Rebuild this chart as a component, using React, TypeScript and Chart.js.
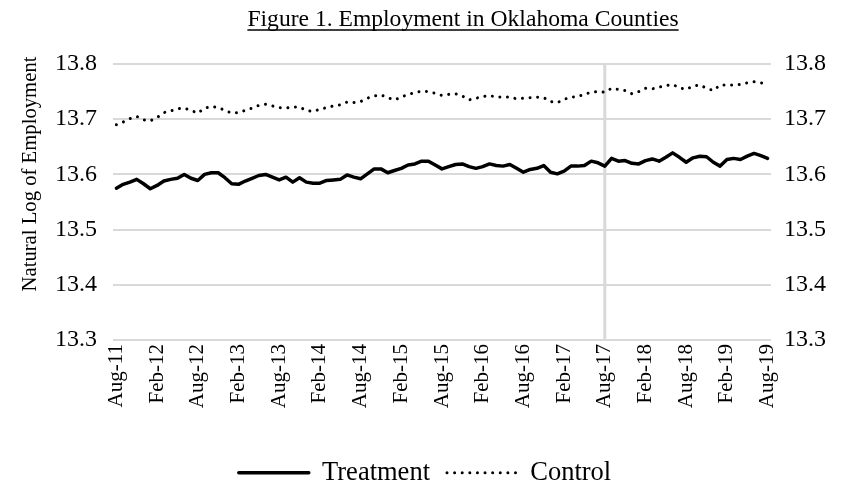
import { useEffect, useRef } from "react";
import { Chart, registerables } from "chart.js";

Chart.register(...registerables);

const MONTH_NAMES = ["Jan", "Feb", "Mar", "Apr", "May", "Jun", "Jul", "Aug", "Sep", "Oct", "Nov", "Dec"];
const START_MONTH = 7; // Aug
const START_YEAR = 2011;
const MONTH_COUNT = 97; // Aug-11 .. Aug-19

const categories: string[] = [];
for (let k = 0; k < MONTH_COUNT; k++) {
  const m = (START_MONTH + k) % 12;
  const y = START_YEAR + Math.floor((START_MONTH + k) / 12);
  categories.push(`${MONTH_NAMES[m]}-${String(y % 100).padStart(2, "0")}`);
}

const tickLabels = [
  "Aug-11", "Feb-12", "Aug-12", "Feb-13", "Aug-13", "Feb-14", "Aug-14", "Feb-15", "Aug-15",
  "Feb-16", "Aug-16", "Feb-17", "Aug-17", "Feb-18", "Aug-18", "Feb-19", "Aug-19",
];

const treatmentStart = "Aug-17";

const treatment = [
  13.575, 13.582, 13.586, 13.591, 13.583, 13.574, 13.580, 13.588, 13.591, 13.593,
  13.600, 13.593, 13.589, 13.600, 13.603, 13.603, 13.594, 13.583, 13.582, 13.588,
  13.593, 13.598, 13.600, 13.595, 13.590, 13.595, 13.586, 13.594, 13.586, 13.584,
  13.584, 13.589, 13.590, 13.591, 13.599, 13.595, 13.592, 13.601, 13.610, 13.610,
  13.603, 13.607, 13.611, 13.617, 13.619, 13.624, 13.624, 13.617, 13.610, 13.614,
  13.618, 13.619, 13.614, 13.611, 13.614, 13.619, 13.616, 13.615, 13.618, 13.611,
  13.604, 13.609, 13.611, 13.616, 13.604, 13.601, 13.606, 13.615, 13.615, 13.616,
  13.624, 13.621, 13.615, 13.629, 13.624, 13.625, 13.620, 13.619, 13.625, 13.628,
  13.624, 13.631, 13.639, 13.631, 13.622, 13.630, 13.633, 13.632, 13.622, 13.615,
  13.627, 13.629, 13.627, 13.633, 13.638, 13.634, 13.629,
];

const control = [
  13.690, 13.695, 13.701, 13.705, 13.699, 13.697, 13.703, 13.712, 13.715, 13.719,
  13.720, 13.716, 13.711, 13.720, 13.723, 13.721, 13.716, 13.711, 13.712, 13.716,
  13.720, 13.725, 13.727, 13.724, 13.721, 13.720, 13.722, 13.722, 13.716, 13.714,
  13.718, 13.721, 13.724, 13.726, 13.731, 13.730, 13.732, 13.738, 13.742, 13.744,
  13.739, 13.735, 13.740, 13.745, 13.748, 13.751, 13.750, 13.747, 13.743, 13.745,
  13.746, 13.742, 13.735, 13.738, 13.741, 13.743, 13.740, 13.740, 13.740, 13.737,
  13.738, 13.739, 13.740, 13.739, 13.732, 13.730, 13.736, 13.740, 13.741, 13.745,
  13.749, 13.750, 13.749, 13.756, 13.754, 13.752, 13.746, 13.750, 13.756, 13.755,
  13.758, 13.761, 13.763, 13.757, 13.754, 13.760, 13.762, 13.756, 13.752, 13.762,
  13.762, 13.762, 13.763, 13.766, 13.768, 13.766, 13.763,
];

const yMin = 13.3;
const yMax = 13.8;
const yStep = 0.1;

const TITLE = "Figure 1. Employment in Oklahoma Counties";
const Y_TITLE = "Natural Log of Employment";
const FONT = "'Liberation Serif', 'Times New Roman', serif";
const GRID = "#d9d9d9";

const decorPlugin = {
  id: "decor",
  beforeDatasetsDraw(chart: any) {
    const { ctx, chartArea, scales } = chart;
    const idx = categories.indexOf(treatmentStart);
    const x = scales.x.getPixelForValue(idx);
    ctx.save();
    ctx.strokeStyle = GRID;
    ctx.lineWidth = 3;
    ctx.beginPath();
    ctx.moveTo(x, chartArea.top);
    ctx.lineTo(x, chartArea.bottom);
    ctx.stroke();
    ctx.restore();
  },
  afterDraw(chart: any) {
    const { ctx } = chart;
    ctx.save();
    // chart title, underlined
    ctx.font = `23.6px ${FONT}`;
    ctx.fillStyle = "#000";
    ctx.textAlign = "center";
    ctx.textBaseline = "alphabetic";
    const cx = 463;
    const by = 26;
    ctx.fillText(TITLE, cx, by);
    const w = ctx.measureText(TITLE).width;
    ctx.strokeStyle = "#000";
    ctx.lineWidth = 1.5;
    ctx.beginPath();
    ctx.moveTo(cx - w / 2, by + 4);
    ctx.lineTo(cx + w / 2, by + 4);
    ctx.stroke();
    // y axis title
    ctx.translate(31, 174);
    ctx.rotate(-Math.PI / 2);
    ctx.font = `20.7px ${FONT}`;
    ctx.textBaseline = "middle";
    ctx.fillText(Y_TITLE, 0, 0);
    ctx.restore();
  },
};

export default function App() {
  const canvasRef = useRef<HTMLCanvasElement | null>(null);

  useEffect(() => {
    if (!canvasRef.current) return;
    const yTickFont = { family: FONT, size: 24 };
    const xTickFont = { family: FONT, size: 21 };
    const chart = new Chart(canvasRef.current, {
      type: "line",
      data: {
        labels: categories,
        datasets: [
          {
            label: "Treatment",
            data: treatment,
            borderColor: "#000",
            backgroundColor: "#000",
            borderWidth: 3.5,
            borderJoinStyle: "round",
            borderCapStyle: "round",
            pointRadius: 0,
            tension: 0,
            yAxisID: "y",
          },
          {
            label: "Control",
            data: control,
            borderColor: "#000",
            backgroundColor: "#000",
            borderWidth: 3,
            borderDash: [0.01, 7.6],
            borderCapStyle: "round",
            pointRadius: 0,
            tension: 0,
            yAxisID: "y",
          },
        ],
      },
      options: {
        animation: false,
        responsive: false,
        layout: { padding: { top: 64, left: 8, right: 0, bottom: -6 } },
        plugins: {
          title: { display: false },
          tooltip: { enabled: false },
          legend: {
            position: "bottom",
            labels: {
              usePointStyle: true,
              pointStyleWidth: 70,
              padding: 17,
              color: "#000",
              font: { family: FONT, size: 26.5 },
              generateLabels: (c: any) =>
                c.data.datasets.map((ds: any, i: number) => ({
                  text: ds.label,
                  pointStyle: "line",
                  lineWidth: ds.borderWidth,
                  lineDash: ds.borderDash || [],
                  lineCap: ds.borderCapStyle,
                  strokeStyle: "#000",
                  fillStyle: "#000",
                  fontColor: "#000",
                  datasetIndex: i,
                  hidden: false,
                })),
            },
          },
        },
        scales: {
          x: {
            type: "category",
            offset: true,
            grid: { display: false, drawTicks: false },
            border: { display: false },
            ticks: {
              autoSkip: false,
              minRotation: 90,
              maxRotation: 90,
              padding: 4,
              color: "#000",
              font: xTickFont,
              callback: (_v: any, i: number) => (tickLabels.includes(categories[i]) ? categories[i] : ""),
            },
            afterFit: (s: any) => {
              s.height = 102.5;
            },
          },
          y: {
            position: "left",
            min: yMin,
            max: yMax,
            grid: { color: GRID, lineWidth: 2, drawTicks: false },
            border: { display: false },
            ticks: {
              stepSize: yStep,
              padding: 16,
              color: "#000",
              font: yTickFont,
              callback: (v: any) => Number(v).toFixed(1),
            },
            afterFit: (s: any) => {
              s.width = 105;
            },
          },
          y2: {
            position: "right",
            min: yMin,
            max: yMax,
            grid: { display: false, drawTicks: false },
            border: { display: false },
            ticks: {
              stepSize: yStep,
              padding: 13,
              color: "#000",
              font: yTickFont,
              callback: (v: any) => Number(v).toFixed(1),
            },
            afterFit: (s: any) => {
              s.width = 71;
            },
          },
        },
      },
      plugins: [decorPlugin],
    });
    return () => chart.destroy();
  }, []);

  return (
    <div style={{ position: "fixed", left: 0, top: 0, width: 842, height: 490, background: "#fff" }}>
      <canvas ref={canvasRef} width={842} height={490} style={{ display: "block", width: 842, height: 490 }} />
    </div>
  );
}
